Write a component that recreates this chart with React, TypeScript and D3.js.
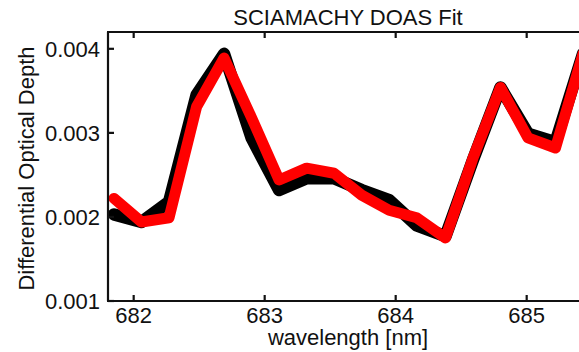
import * as d3 from "d3";

const wavelength = [
  681.85, 682.06, 682.27, 682.48, 682.69, 682.9, 683.11, 683.32, 683.53,
  683.74, 683.95, 684.16, 684.38, 684.59, 684.8, 685.01, 685.22, 685.43,
];
const measured = [
  0.00203, 0.00194, 0.00218, 0.00345, 0.00394, 0.00294, 0.00232, 0.00246, 0.00246,
  0.00232, 0.0022, 0.0019, 0.00177, 0.00268, 0.00354, 0.00299, 0.00289, 0.00394,
];
const fitted = [
  0.00222, 0.00194, 0.00199, 0.00331, 0.00389, 0.00318, 0.00244, 0.00258, 0.00252,
  0.00226, 0.00208, 0.00199, 0.00175, 0.0027, 0.00354, 0.00294, 0.00282, 0.00394,
];
const xTicks = [682, 683, 684, 685];
const yTicks = [0.001, 0.002, 0.003, 0.004];

const W = 579;
const H = 352;
const FONT = "'Liberation Sans', Arial, Helvetica, sans-serif";

export default function App() {
  const left = 108, right = 588, top = 32, bottom = 301;
  const x = d3.scaleLinear().domain([681.804, 685.468]).range([left, right]);
  const y = d3.scaleLinear().domain([0.001, 0.0042]).range([bottom, top]);

  const line = d3
    .line<number>()
    .x((_, i) => x(wavelength[i]))
    .y((d) => y(d));

  const tick = 6;

  return (
    <svg
      width={W}
      height={H}
      style={{ position: "absolute", left: 0, top: 0, background: "#fff" }}
      fontFamily={FONT}
    >
      <defs>
        <clipPath id="plot">
          <rect x={left} y={top} width={right - left} height={bottom - top} />
        </clipPath>
      </defs>

      {/* data lines: measured (black) under the fit (red) */}
      <g clipPath="url(#plot)" fill="none" strokeLinejoin="round" strokeLinecap="round">
        <path d={line(measured) ?? ""} stroke="#000" strokeWidth={12.5} />
        <path d={line(fitted) ?? ""} stroke="#ff0000" strokeWidth={11} />
      </g>

      {/* frame */}
      <g stroke="#111" strokeWidth={2.2}>
        <line x1={left} x2={left} y1={top} y2={bottom} />
        <line x1={left - 1} x2={right} y1={bottom} y2={bottom} />
        <line x1={left - 1} x2={right} y1={top} y2={top} />
        {xTicks.map((t) => (
          <g key={t}>
            <line x1={x(t)} x2={x(t)} y1={bottom} y2={bottom - tick} />
            <line x1={x(t)} x2={x(t)} y1={top} y2={top + tick} />
          </g>
        ))}
        {yTicks.map((t) => (
          <line key={t} x1={left} x2={left + tick} y1={y(t)} y2={y(t)} />
        ))}
      </g>

      {/* tick labels */}
      <g fontSize={22} fill="#111">
        {xTicks.map((t) => (
          <text key={t} x={x(t)} y={322.5} textAnchor="middle">
            {t}
          </text>
        ))}
        {yTicks.map((t) => (
          <text key={t} x={100} y={y(t)} dy="0.36em" textAnchor="end">
            {d3.format(".3f")(t)}
          </text>
        ))}
      </g>

      <text x={(left + right) / 2} y={25} textAnchor="middle" fontSize={22} fill="#111">
        SCIAMACHY DOAS Fit
      </text>
      <text x={(left + right) / 2} y={345} textAnchor="middle" fontSize={22} fill="#111">
        wavelength [nm]
      </text>
      <text
        transform={`translate(34, ${(top + bottom) / 2 + 2}) rotate(-90)`}
        textAnchor="middle"
        fontSize={22}
        fill="#111"
      >
        Differential Optical Depth
      </text>
    </svg>
  );
}
